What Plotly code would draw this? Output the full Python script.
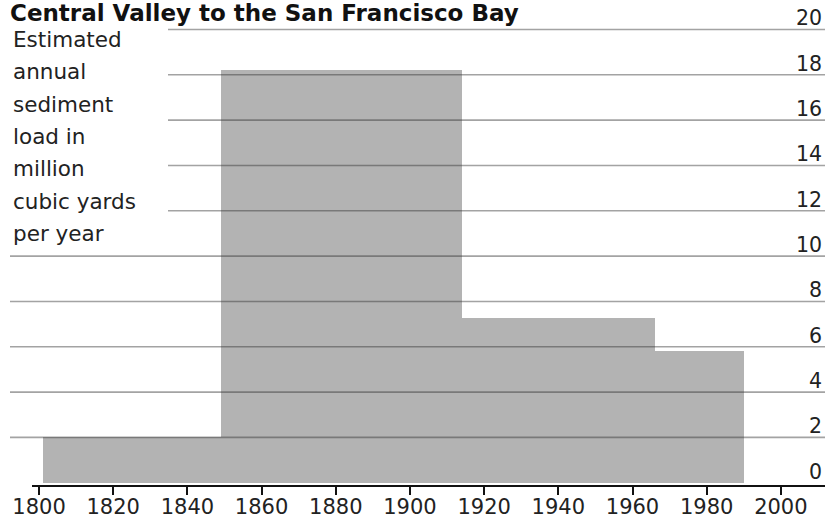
import plotly.graph_objects as go

# Data
period_start = [1801, 1849, 1914, 1966]
period_end = [1849, 1914, 1966, 1990]
sediment = [2.0, 18.2, 7.25, 5.8]

x_ticks = [1800, 1820, 1840, 1860, 1880, 1900, 1920, 1940, 1960, 1980, 2000]
y_ticks = [0, 2, 4, 6, 8, 10, 12, 14, 16, 18, 20]

title_text = "Central Valley to the San Francisco Bay"
y_label_lines = ["Estimated", "annual", "sediment", "load in", "million",
                 "cubic yards", "per year"]

FONT = "DejaVu Sans"
W, H = 825, 520
ML, MR, MT, MB = 32, 0, 0, 35
plot_w = W - ML - MR
plot_h = H - MT - MB

widths = [e - s for s, e in zip(period_start, period_end)]

fig = go.Figure()
fig.add_trace(go.Bar(
    x=period_start, y=sediment, width=widths, offset=0,
    marker=dict(color="#b3b3b3", line=dict(width=0)),
    hoverinfo="skip",
))

# gridlines drawn above the bars; upper ones stop before the text block
shapes = []
for v in y_ticks[1:]:
    x0_px = 168 if v >= 12 else 10
    shapes.append(dict(
        type="line", xref="paper", yref="y",
        x0=(x0_px - ML) / plot_w, x1=1, y0=v, y1=v,
        line=dict(color="rgba(50,50,50,0.45)", width=1.6),
        layer="above",
    ))

annotations = [
    dict(text="<b>" + title_text + "</b>", xref="paper", yref="paper",
         x=(10 - ML) / plot_w, y=1.0, borderpad=0, borderwidth=0,
         xanchor="left", yanchor="top", showarrow=False,
         font=dict(family=FONT, size=23, color="#111")),
]
label_size = 21.5
first_baseline, pitch = 47.0, 32.4
for i, line in enumerate(y_label_lines):
    center_px = first_baseline + i * pitch - 0.36 * label_size
    annotations.append(dict(
        text=line, xref="paper", yref="paper", align="left",
        x=(13 - ML) / plot_w, y=1 - (center_px - MT) / plot_h,
        borderpad=0, borderwidth=0,
        xanchor="left", yanchor="middle", showarrow=False,
        font=dict(family=FONT, size=label_size, color="#222")))

fig.update_layout(
    width=W, height=H,
    margin=dict(l=ML, r=MR, t=MT, b=MB, autoexpand=False),
    paper_bgcolor="white", plot_bgcolor="white",
    showlegend=False, bargap=0,
    shapes=shapes,
    xaxis=dict(
        range=[1798.1, 2011.9], tickvals=x_ticks, automargin=False,
        ticks="outside", ticklen=8, tickwidth=2, tickcolor="#111",
        showline=True, linecolor="#111", linewidth=2,
        showgrid=False, zeroline=False, ticklabelstandoff=-6,
        tickfont=dict(family=FONT, size=21, color="#222"),
    ),
    yaxis=dict(
        range=[-0.1, 21.3], tickvals=y_ticks, side="right", automargin=False,
        ticklabelposition="inside top", ticklabelshift=3,
        showgrid=False, zeroline=False, showline=False, ticks="",
        tickfont=dict(family=FONT, size=20.5, color="#222"),
    ),
    annotations=annotations,
)

fig.write_html("out.html")
